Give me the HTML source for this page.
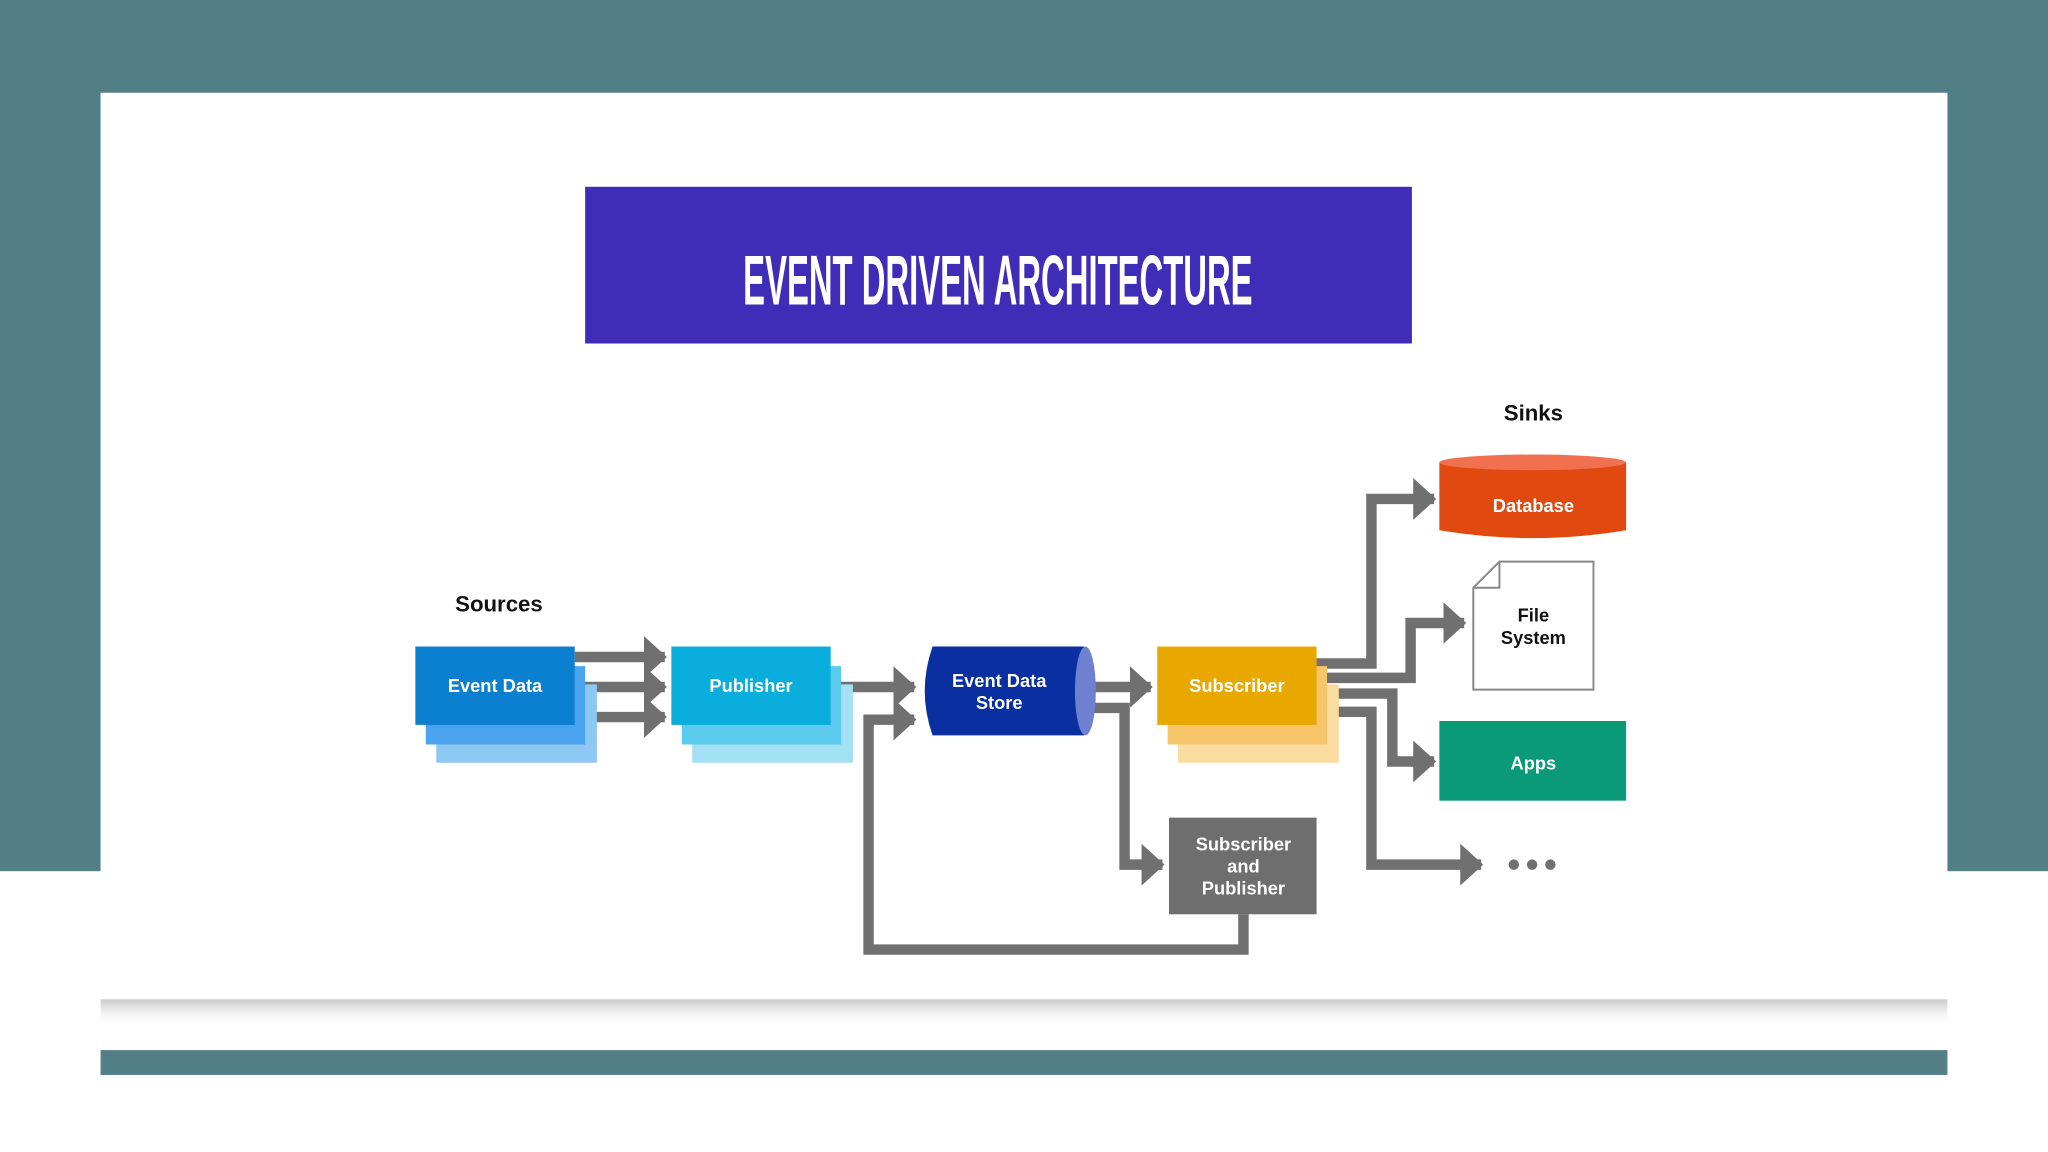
<!DOCTYPE html>
<html><head><meta charset="utf-8"><style>
html,body{margin:0;padding:0;width:2048px;height:1152px;overflow:hidden;background:#fff}
svg{display:block}
text{font-family:"Liberation Sans",sans-serif;font-weight:bold}
</style></head><body>
<svg width="2048" height="1152" viewBox="0 0 1568 882" xmlns="http://www.w3.org/2000/svg">
<defs>
<linearGradient id="sh" x1="0" y1="0" x2="0" y2="1"><stop offset="0" stop-color="#c8c8c8"/><stop offset="1" stop-color="#ffffff" stop-opacity="0"/></linearGradient>
<marker id="ah" markerWidth="4" markerHeight="4" refX="2" refY="2" orient="auto" markerUnits="strokeWidth"><path d="M0,0 L2.2,2 L0,4 Z" fill="#707070"/></marker>
</defs>
<rect x="0" y="0" width="1568" height="667" fill="#527e86"/>
<rect x="77" y="765" width="1414" height="22" fill="url(#sh)"/>
<rect x="77" y="71" width="1414" height="694" fill="#fff"/>
<rect x="77" y="804" width="1414" height="19" fill="#527e86"/>
<rect x="448" y="143" width="633" height="120" fill="#3f2db8"/>
<text x="764" y="233" text-anchor="middle" fill="#fff" font-size="54" textLength="390" lengthAdjust="spacingAndGlyphs">EVENT DRIVEN ARCHITECTURE</text>

<text x="382" y="468" text-anchor="middle" font-size="17" fill="#111">Sources</text>
<text x="1174" y="322" text-anchor="middle" font-size="17" fill="#111">Sinks</text>

<g stroke="#707070" stroke-width="8" fill="none">
<line x1="440" y1="503" x2="509" y2="503" marker-end="url(#ah)"/>
<line x1="440" y1="526" x2="509" y2="526" marker-end="url(#ah)"/>
<line x1="440" y1="549" x2="509" y2="549" marker-end="url(#ah)"/>
<line x1="636" y1="526" x2="700" y2="526" marker-end="url(#ah)"/>
<polyline points="952,700 952,727 665,727 665,551 700,551" marker-end="url(#ah)"/>
<line x1="832" y1="526" x2="881" y2="526" marker-end="url(#ah)"/>
<polyline points="832,542 861,542 861,662 890,662" marker-end="url(#ah)"/>
<polyline points="1008,508 1050,508 1050,382 1098,382" marker-end="url(#ah)"/>
<polyline points="1008,519 1080,519 1080,477 1121,477" marker-end="url(#ah)"/>
<polyline points="1008,531 1066,531 1066,583 1098,583" marker-end="url(#ah)"/>
<polyline points="1008,545 1050,545 1050,662 1134,662" marker-end="url(#ah)"/>
</g>

<rect x="334" y="524" width="123" height="60" fill="#8ec8f2"/>
<rect x="326" y="510" width="122" height="60" fill="#4aa3ec"/>
<rect x="318" y="495" width="122" height="60" fill="#0b7fd0"/>
<text x="379" y="530" text-anchor="middle" font-size="14" fill="#fff">Event Data</text>

<rect x="530" y="524" width="123" height="60" fill="#a3e0f4"/>
<rect x="522" y="510" width="122" height="60" fill="#5ccbee"/>
<rect x="514" y="495" width="122" height="60" fill="#0aaedc"/>
<text x="575" y="530" text-anchor="middle" font-size="14" fill="#fff">Publisher</text>

<path d="M714,495 L830,495 L830,563 L714,563 Q702,529 714,495 Z" fill="#0a2fa0"/>
<ellipse cx="831" cy="529" rx="8" ry="34" fill="#7080d0"/>
<text x="765" y="526" text-anchor="middle" font-size="14" fill="#fff">Event Data</text>
<text x="765" y="543" text-anchor="middle" font-size="14" fill="#fff">Store</text>

<rect x="902" y="524" width="123" height="60" fill="#fadba0"/>
<rect x="894" y="510" width="122" height="60" fill="#f7c66a"/>
<rect x="886" y="495" width="122" height="60" fill="#e8a800"/>
<text x="947" y="530" text-anchor="middle" font-size="14" fill="#fff">Subscriber</text>

<rect x="895" y="626" width="113" height="74" fill="#6e6e6e"/>
<text x="952" y="651" text-anchor="middle" font-size="14" fill="#fff">Subscriber</text>
<text x="952" y="668" text-anchor="middle" font-size="14" fill="#fff">and</text>
<text x="952" y="685" text-anchor="middle" font-size="14" fill="#fff">Publisher</text>

<path d="M1102,354 L1245,354 L1245,406 Q1174,418 1102,406 Z" fill="#e04a10"/>
<ellipse cx="1173.5" cy="354" rx="71.5" ry="6" fill="#f07050"/>
<text x="1174" y="392" text-anchor="middle" font-size="14" fill="#fff">Database</text>

<path d="M1148,430 L1220,430 L1220,528 L1128,528 L1128,450 Z" fill="#fff" stroke="#888" stroke-width="1.5"/>
<path d="M1128,450 L1148,450 L1148,430" fill="none" stroke="#888" stroke-width="1.5"/>
<text x="1174" y="476" text-anchor="middle" font-size="14" fill="#111">File</text>
<text x="1174" y="493" text-anchor="middle" font-size="14" fill="#111">System</text>

<rect x="1102" y="552" width="143" height="61" fill="#0a9a78"/>
<text x="1174" y="589" text-anchor="middle" font-size="14" fill="#fff">Apps</text>

<circle cx="1159" cy="662" r="4" fill="#707070"/>
<circle cx="1173" cy="662" r="4" fill="#707070"/>
<circle cx="1187" cy="662" r="4" fill="#707070"/>
</svg>
</body></html>
